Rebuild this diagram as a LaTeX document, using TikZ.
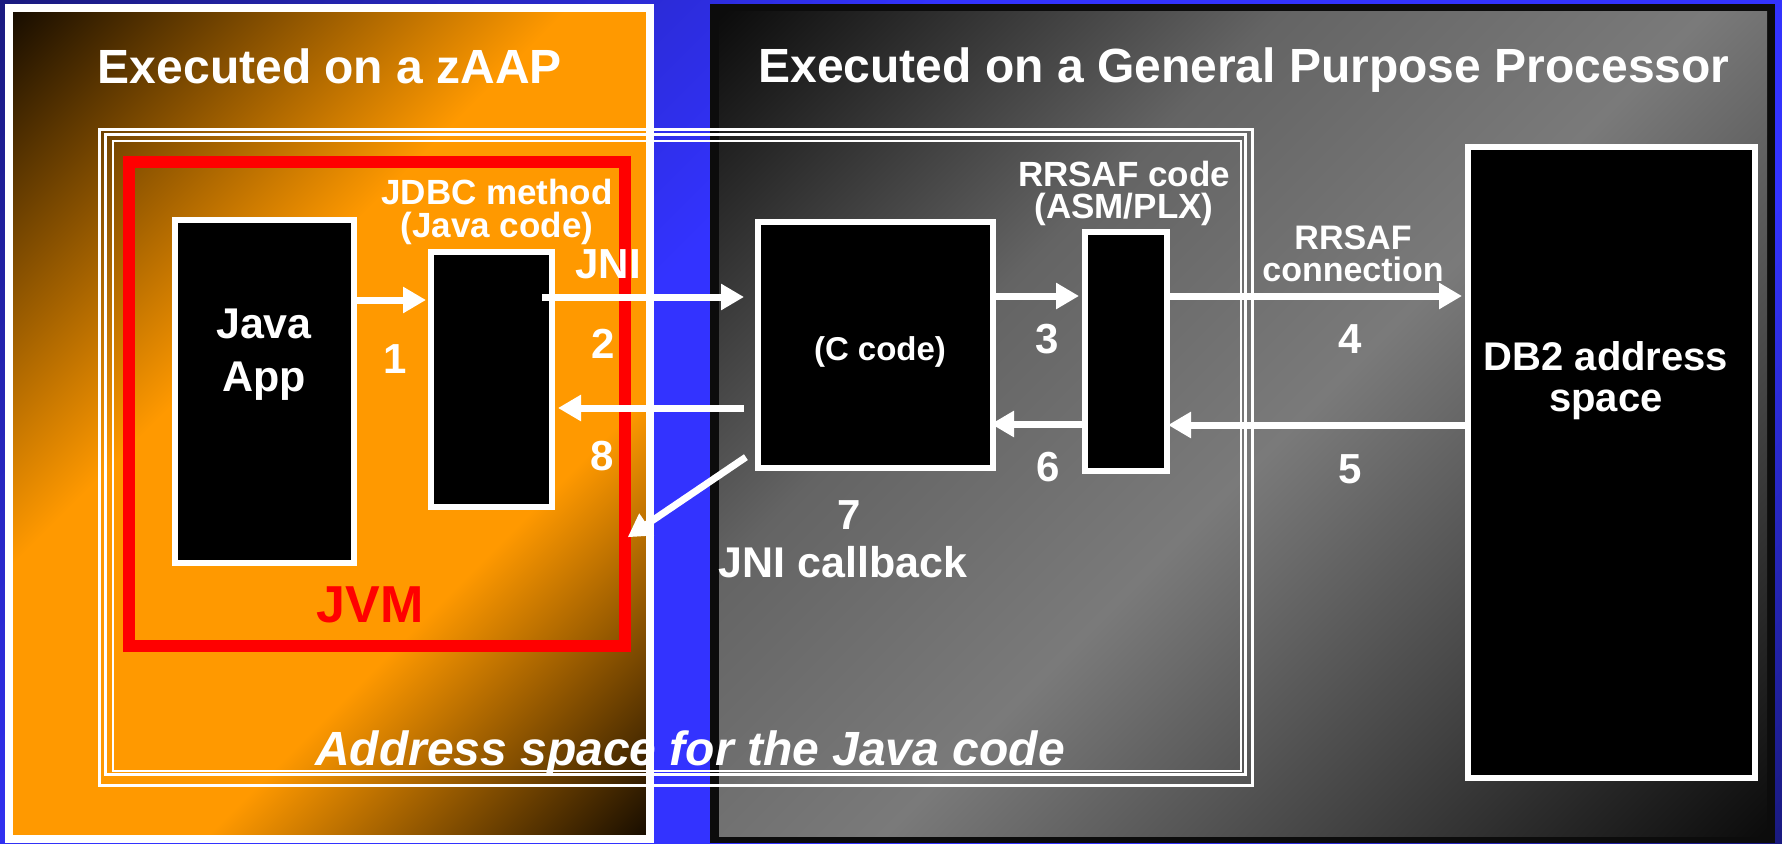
\documentclass[tikz,border=0pt]{standalone}
\usepackage{fontspec}
\setmainfont{Liberation Sans}
\usetikzlibrary{arrows.meta}
\definecolor{orng}{RGB}{255,153,0}
\definecolor{odark}{RGB}{22,12,0}
\definecolor{gdark}{RGB}{12,12,12}
\definecolor{gmid}{RGB}{100,100,100}
\definecolor{glight}{RGB}{122,122,122}
\definecolor{gdown}{RGB}{70,70,70}
\definecolor{bdark}{RGB}{26,26,128}
\definecolor{bbright}{RGB}{51,51,255}
\pgfdeclareverticalshading{orangeshade}{100bp}{color(0bp)=(odark); color(14.64bp)=(odark); color(36bp)=(orng); color(58.5bp)=(orng); color(85.36bp)=(odark); color(100bp)=(odark)}
\pgfdeclareverticalshading{grayshade}{100bp}{color(0bp)=(gdark); color(14.64bp)=(gdark); color(32bp)=(gdown); color(48bp)=(glight); color(64.2bp)=(gmid); color(85.36bp)=(gdark); color(100bp)=(gdark)}
\pgfdeclareverticalshading{blueshade}{100bp}{color(0bp)=(bdark); color(14.64bp)=(bdark); color(32bp)=(bbright); color(60bp)=(bbright); color(85.36bp)=(bdark); color(100bp)=(bdark)}
\newcommand\setfs[2]{\fontsize{#1}{#2}\selectfont}
\begin{document}
\begin{tikzpicture}[x=1pt,y=-1pt,
  box/.style={draw=white, fill=black, line width=6pt, inner sep=0pt},
  arr/.style={draw=white, line width=7pt, -{Triangle[length=23pt,width=25pt]}},
  lbl/.style={text=white, inner sep=0pt, anchor=base, align=center},
  title/.style={lbl, font={\bfseries\setfs{48}{56}}},
  num/.style={lbl, font={\bfseries\setfs{42}{48}}},
  addrline/.style={draw=white}]
\useasboundingbox (0,0) rectangle (1782,843);
% background
\shade[shading=blueshade, shading angle=45] (0,0) rectangle (1782,843);
% general purpose panel
\fill[gdark] (710,4) rectangle (1775,843);
\shade[shading=grayshade, shading angle=45] (719,12) rectangle (1767,836);
% zAAP panel
\shade[shading=orangeshade, shading angle=45] (9,8) rectangle (650,839);
\draw[white, line width=8pt] (9,8) rectangle (650,839);
% titles
\node[title] (t1) at (330,83) {Executed on a zAAP};
\node[title] (t2) at (1244,82) {Executed on a General Purpose Processor};
% address space box
\draw[addrline, line width=3pt] (99.5,129) rectangle (1252,785);
\draw[addrline, line width=3pt] (105,134.5) rectangle (1245.5,774.5);
\draw[addrline, line width=2pt] (112.5,141) rectangle (1240.5,771);
\node[lbl, font={\bfseries\itshape\setfs{48}{56}}] (addr) at (690,765) {Address space for the Java code};
% JVM
\node[draw=red, line width=12pt, minimum width=496pt, minimum height=484pt, inner sep=0pt] (jvm) at (377,404) {};
\node[lbl, text=red, font={\bfseries\setfs{52}{60}}] (jvmlbl) at (370,622) {JVM};
% boxes
\node[box, minimum width=179pt, minimum height=343pt] (app) at (264.5,391.5) {};
\node[box, minimum width=121pt, minimum height=255pt] (jdbc) at (491.5,379.5) {};
\node[box, minimum width=235pt, minimum height=246pt] (cc) at (875.5,345) {};
\node[box, minimum width=82pt, minimum height=239pt] (rrsaf) at (1126,351.5) {};
\node[box, minimum width=287pt, minimum height=631pt] (db2) at (1611.5,462.5) {};
% box texts (anchor base = baseline of last line)
\node[lbl, font={\bfseries\setfs{43}{53}}] (applbl) at (264,391) {Java\\App};
\node[lbl, font={\bfseries\setfs{35}{33}}] (jdbclbl) at (497,237) {JDBC method\\(Java code)};
\node[lbl, font={\bfseries\setfs{33}{40}}] (cclbl) at (880,360) {(C code)};
\node[lbl, font={\bfseries\setfs{35}{32}}] (rrsaflbl) at (1124,218) {RRSAF code\\(ASM/PLX)};
\node[lbl, font={\bfseries\setfs{40}{41}}] (db2lbl) at (1606,411) {DB2 address\\space};
% arrows
\draw[arr, shorten >=2pt] (app.east |- 0,300) -- (jdbc.west |- 0,300);
\draw[arr, shorten <=-13pt, shorten >=11pt] (jdbc.east |- 0,297) -- (cc.west |- 0,297);
\draw[arr, shorten <=11pt, shorten >=3pt] (cc.west |- 0,408) -- (jdbc.east |- 0,408);
\draw[arr, shorten <=-6pt, shorten >=3pt] (cc.east |- 0,296) -- (rrsaf.west |- 0,296);
\draw[arr, shorten <=-4pt, shorten >=3pt] (rrsaf.east |- 0,296) -- (db2.west |- 0,296);
\draw[arr, shorten >=-2pt] (db2.west |- 0,425) -- (rrsaf.east |- 0,425);
\draw[arr, shorten >=-5pt] (rrsaf.west |- 0,424) -- (cc.east |- 0,424);
\draw[arr, shorten <=11pt, shorten >=-4pt] (cc.west |- 0,451) -- (jvm.east |- 0,535);
% arrow labels
\node[lbl, font={\bfseries\setfs{42}{48}}] (jni) at (608,278) {JNI};
\node[num] (n1) at (395,373) {1};
\node[num] (n2) at (603,358) {2};
\node[num] (n3) at (1047,353) {3};
\node[num] (n4) at (1350,353) {4};
\node[num] (n5) at (1350,483) {5};
\node[num] (n6) at (1048,481) {6};
\node[num] (n7) at (849,529) {7};
\node[num] (n8) at (602,470) {8};
\node[lbl, font={\bfseries\setfs{43}{50}}] (cb) at (843,577) {JNI callback};
\node[lbl, font={\bfseries\setfs{34}{32}}] (conn) at (1353,281) {RRSAF\\connection};
\end{tikzpicture}
\end{document}
